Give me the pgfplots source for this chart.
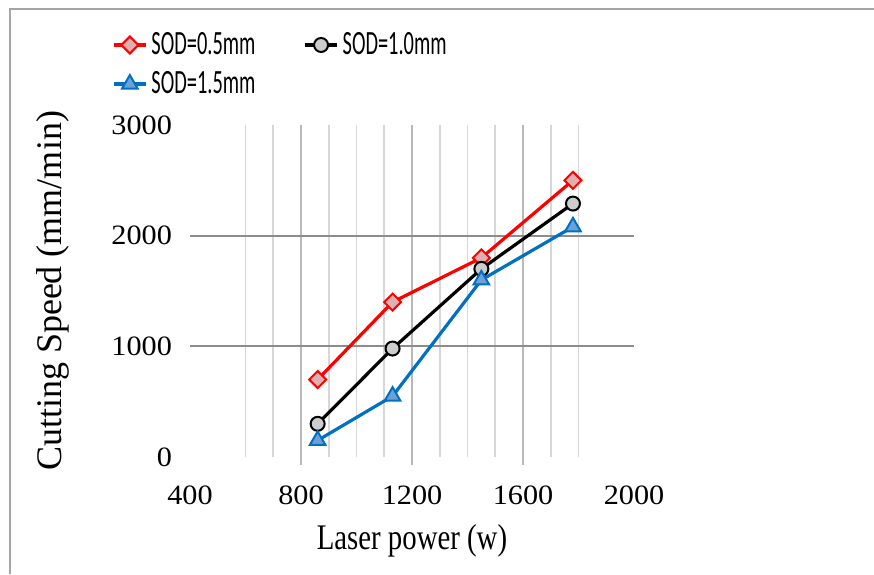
\documentclass[border=0pt]{standalone}
\usepackage{fontspec}
\setmainfont{Liberation Serif}
\newfontfamily\legfont[FakeStretch=0.6]{Carlito}
\newfontfamily\xlabfont[FakeStretch=0.8]{Liberation Serif}
\newfontfamily\tickfont[FakeStretch=1.08]{Liberation Serif}
\usepackage{pgfplots}
\pgfplotsset{compat=1.18}
\definecolor{sodred}{RGB}{255,0,0}
\definecolor{sodblue}{RGB}{0,112,192}
\definecolor{redfill}{RGB}{225,175,175}
\definecolor{blackfill}{RGB}{205,205,205}
\definecolor{bluefill}{RGB}{110,160,215}
\definecolor{hgrid}{RGB}{140,140,140}
\definecolor{vmaj}{RGB}{185,185,185}
\definecolor{vmin}{RGB}{215,215,215}
\begin{document}
\begin{tikzpicture}
\useasboundingbox (0,0) rectangle (437pt,-287pt);
\draw[color={rgb,255:red,165;green,165;blue,165}, line width=1pt] (5pt,-287pt) -- (5pt,-4.5pt) -- (437pt,-4.5pt);
\begin{axis}[
  at={(95pt,-228.5pt)}, anchor=south west,
  scale only axis, width=222pt, height=166pt,
  xmin=400, xmax=2000, ymin=0, ymax=3000,
  axis line style={draw=none},
  /pgf/number format/assume math mode=true,
  /pgf/number format/1000 sep={},
  tick label style={font=\tickfont\fontsize{14}{16}\selectfont},
  xtick={800,1200,1600},
  extra x ticks={400,2000},
  extra x tick style={xmajorgrids=false, major tick style={draw=none}},
  minor xtick={600,700,900,1000,1100,1300,1400,1500,1700,1800},
  xmajorgrids, xminorgrids,
  major grid style={color=vmaj, line width=0.9pt},
  minor grid style={color=vmin, line width=0.9pt},
  x tick style={color=vmaj, line width=0.9pt},
  major tick length=4pt, minor tick length=0pt,
  tick align=outside,
  xtick pos=bottom,
  ytick={0,1000,2000,3000},
  y tick style={draw=none},
  extra y ticks={1000,2000},
  extra y tick labels={},
  extra y tick style={ymajorgrids=true, major grid style={color=hgrid, line width=0.9pt}, tick style={draw=none}},
  yticklabel style={xshift=-1.5pt},
  xticklabel style={yshift=-7pt},
  xlabel={Laser power (w)},
  ylabel={Cutting Speed (mm/min)},
  xlabel style={font=\xlabfont\fontsize{18}{20}\selectfont, yshift=5pt},
  ylabel style={font=\fontsize{18}{20}\selectfont, yshift=6pt},
  legend columns=2,
  legend cell align=left,
  legend style={at={(-0.176,1.292)}, anchor=north west, draw=none, fill=none,
    font=\legfont\fontsize{17}{19}\selectfont,
    /tikz/every even column/.append style={column sep=22pt},
    row sep=3pt, inner sep=0pt},
  legend image code/.code={\draw[mark repeat=2,mark phase=2] plot coordinates {(0pt,0pt) (8pt,0pt) (16pt,0pt)};},
  clip=false,
]
\addplot[sodred, line width=1.6pt, mark=square*, mark size=3pt, mark options={rotate=45, fill=redfill, draw=sodred, line width=1pt}]
  coordinates {(860,700) (1130,1400) (1450,1800) (1780,2500)};
\addlegendentry{SOD=0.5mm}
\addplot[black, line width=1.6pt, mark=*, mark size=3.5pt, mark options={fill=blackfill, draw=black, line width=1pt}]
  coordinates {(860,300) (1130,980) (1450,1700) (1780,2290)};
\addlegendentry{SOD=1.0mm}
\addplot[sodblue, line width=1.6pt, mark=triangle*, mark size=4.5pt, mark options={fill=bluefill, draw=sodblue, line width=1pt}]
  coordinates {(860,150) (1130,550) (1450,1600) (1780,2080)};
\addlegendentry{SOD=1.5mm}
\end{axis}
\end{tikzpicture}
\end{document}
